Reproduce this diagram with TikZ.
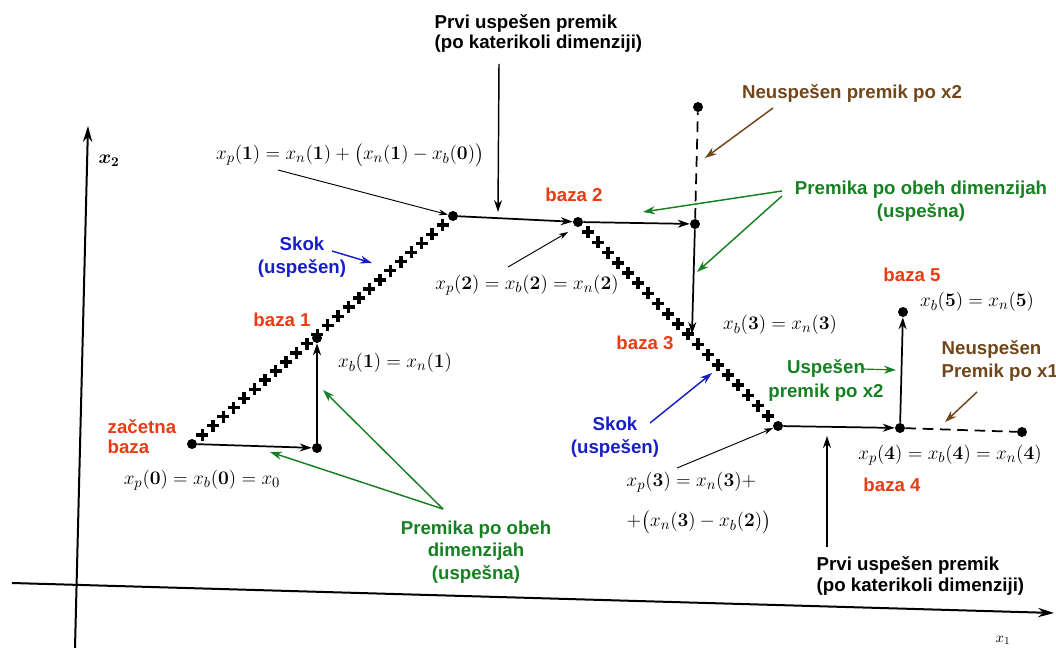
\documentclass[tikz,border=0pt]{standalone}
\usepackage{amsmath}
\usepackage[no-math]{fontspec}
\setmainfont{Liberation Sans}
\usetikzlibrary{arrows.meta,calc}
\newcommand{\stp}[1]{\mathbf{(#1)}}

\begin{document}
\begin{tikzpicture}[x=0.75pt, y=-0.75pt, >={Stealth[length=9pt,width=6pt]},
    font=\fontsize{14}{17}\selectfont\bfseries,
    dot/.style={circle, fill, inner sep=0pt, minimum size=7.5pt},
    move/.style={->, line width=1.3pt},
    fail/.style={line width=1.3pt, dash pattern=on 8pt off 5pt},
    jump/.style={line width=2.6pt},
    formula/.style={font=\fontsize{15}{18}\selectfont},
    note/.style={->, >={Stealth[length=7pt,width=4.5pt]}, line width=0.7pt},
    first/.style={->, line width=1.1pt},
    greenarrow/.style={->, line width=1.1pt, draw=okgreen},
    bluearrow/.style={->, line width=1.1pt, draw=skokblue},
    brownarrow/.style={->, line width=1.1pt, draw=failbrown}]
  \definecolor{bazared}{RGB}{232, 60, 20}
  \definecolor{okgreen}{RGB}{22, 128, 34}
  \definecolor{skokblue}{RGB}{22, 30, 200}
  \definecolor{failbrown}{RGB}{112, 70, 26}
  \useasboundingbox (0,0) rectangle (1056,648);

  % axes
  \coordinate (o1) at (12,583);
  \coordinate (e1) at (1054,613);
  \coordinate (o2) at (75,648);
  \coordinate (e2) at (88,126);
  \draw[->, line width=1.5pt, >={Stealth[length=12pt,width=7pt]}] (o1) -- (e1);
  \draw[->, line width=1.5pt, >={Stealth[length=12pt,width=7pt]}] (o2) -- (e2);
  \node (lx2) at (109,161) {$\boldsymbol{x_2}$};
  \node[font=\fontsize{11}{13}\selectfont] (lx1) at (1003,640) {$x_1$};

  % points of the search
  \node[dot] (p0) at (192,444) {};
  \node[dot] (q0) at (317,448) {};
  \node[dot] (b1) at (317,338) {};
  \node[dot] (p1) at (453,216) {};
  \node[dot] (b2) at (578,222) {};
  \node[dot] (q2) at (695,224) {};
  \node[dot] (f2) at (698,107) {};
  \coordinate (b3) at (692,334);
  \node[dot] (p3) at (778,426) {};
  \node[dot] (b4) at (900,428) {};
  \node[dot] (f1) at (1022,432) {};
  \node[dot] (b5) at (903,312) {};

  % moves
  \draw[move] (p0) -- (q0);
  \draw[move] (q0) -- (b1);
  \draw[move] (p1) -- (b2);
  \draw[move] (b2) -- (q2);
  \draw[move] (q2) -- (b3);
  \draw[move] (p3) -- (b4);
  \draw[move] (b4) -- (b5);
  \draw[fail] (q2) -- (f2);
  \draw[fail] (b4) -- (f1);

  % jumps
  \foreach \t in {1,...,24}
    \draw[jump] ($(p0)!\t/25!(p1)$) +(-6,0) -- +(6,0) +(0,-6) -- +(0,6);
  \foreach \t in {1,...,19}
    \draw[jump] ($(b2)!\t/20!(p3)$) +(-6,0) -- +(6,0) +(0,-6) -- +(0,6);

  % bases
  \node[text=bazared, align=left, anchor=west, font=\fontsize{14}{15}\selectfont\bfseries] (l0) at (103,437) {začetna\\baza};
  \node[text=bazared] (l1) at (282,320) {baza 1};
  \node[text=bazared] (l2) at (574,195) {baza 2};
  \node[text=bazared] (l3) at (645,343) {baza 3};
  \node[text=bazared] (l4) at (892,485) {baza 4};
  \node[text=bazared] (l5) at (912,275) {baza 5};

  % formulas
  \node[formula] (m0) at (202,480) {$x_p\stp{0} = x_b\stp{0} = x_0$};
  \node[formula] (m1) at (395,363) {$x_b\stp{1} = x_n\stp{1}$};
  \node[formula] (m1p) at (350,155) {$x_p\stp{1} = x_n\stp{1} + \bigl(x_n\stp{1} - x_b\stp{0}\bigr)$};
  \node[formula] (m2) at (527,285) {$x_p\stp{2} = x_b\stp{2} = x_n\stp{2}$};
  \node[formula] (m3) at (780,325) {$x_b\stp{3} = x_n\stp{3}$};
  \node[formula, align=left, anchor=west, font=\fontsize{15}{30}\selectfont] (m3p) at (622,503)
    {$x_p\stp{3} = x_n\stp{3} +$\\$+\bigl(x_n\stp{3} - x_b\stp{2}\bigr)$};
  \node[formula] (m4) at (950,455) {$x_p\stp{4} = x_b\stp{4} = x_n\stp{4}$};
  \node[formula] (m5) at (977,302) {$x_b\stp{5} = x_n\stp{5}$};

  \draw[note] (278,170) -- (p1);
  \draw[note] (508,267) -- (568,232);
  \draw[note] (677,468) -- (p3);

  % first successful moves
  \node[align=left, anchor=west, font=\fontsize{14}{15}\selectfont\bfseries] (t1) at (430,33)
    {Prvi uspešen premik\\(po katerikoli dimenziji)};
  \node[align=left, anchor=west, font=\fontsize{14}{16}\selectfont\bfseries] (t2) at (812,576)
    {Prvi uspešen premik\\(po katerikoli dimenziji)};
  \draw[first] (499,64) -- (498,212);
  \draw[first] (827,547) -- (827,436);

  % jumps explained
  \node[text=skokblue, align=center] (s1) at (302,257) {Skok\\(uspešen)};
  \node[text=skokblue, align=center] (s2) at (615,437) {Skok\\(uspešen)};
  \draw[bluearrow] (332,251) -- (372,263);
  \draw[bluearrow] (650,423) -- (712,373);

  % moves in both dimensions
  \node[text=okgreen, align=center] (g1) at (476,552) {Premika po obeh\\dimenzijah\\(uspešna)};
  \node[text=okgreen, align=center] (g2) at (921,201) {Premika po obeh dimenzijah\\(uspešna)};
  \draw[greenarrow] (443,509) -- (270,452);
  \draw[greenarrow] (443,509) -- (323,390);
  \draw[greenarrow] (782,191) -- (643,212);
  \draw[greenarrow] (782,196) -- (697,272);
  \node[text=okgreen, align=center, font=\fontsize{14}{18}\selectfont\bfseries] (u2) at (826,380) {Uspešen\\premik po x2};
  \draw[greenarrow, line width=0.9pt] (862,369) -- (896,370);

  % failed moves
  \node[text=failbrown] (n2) at (852,93) {Neuspešen premik po x2};
  \node[text=failbrown, align=left, anchor=west] (n1) at (937,361) {Neuspešen\\Premik po x1};
  \draw[brownarrow] (773,108) -- (705,158);
  \draw[brownarrow] (977,392) -- (945,422);
\end{tikzpicture}
\end{document}
